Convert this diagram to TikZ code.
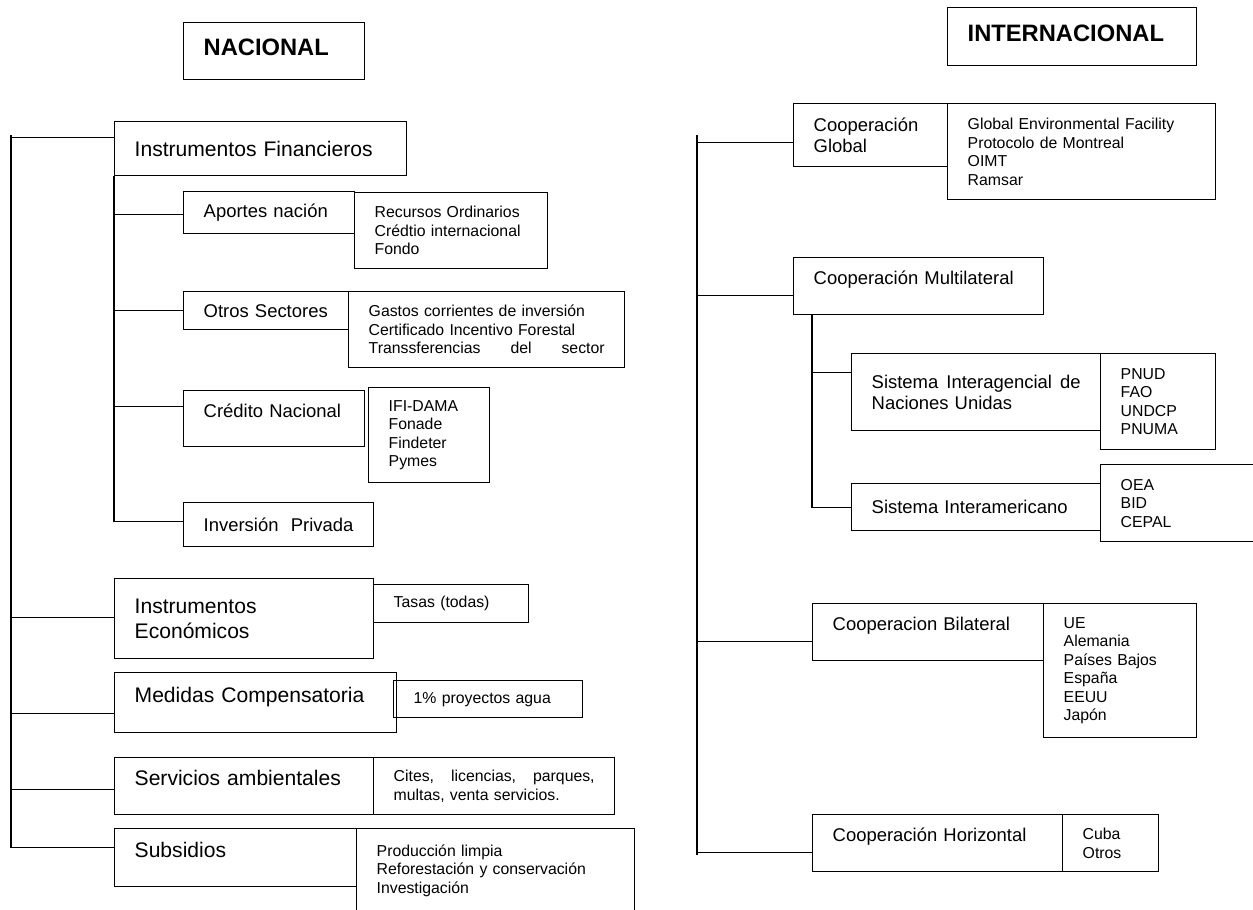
\documentclass[tikz,border=0pt]{standalone}
\usepackage{fontspec}
\setmainfont{Liberation Sans}
\def\spread{\hspace{0pt plus 1filll}}
\tikzset{
	box/.style={draw, line width=0.8pt, anchor=north west, align=left, inner xsep=0.4cm, inner ysep=0pt},
	lg/.style={font=\fontsize{12}{14.6}\selectfont},
	md/.style={font=\fontsize{10.5}{12}\selectfont},
	sm/.style={font=\fontsize{9}{10.5}\selectfont},
	title/.style={font=\fontsize{13.5}{16}\selectfont\bfseries},
	raised/.style={text depth=#1}, raised/.default=0.33cm,
	link/.style={line width=0.8pt},
}

\begin{document}
\begin{tikzpicture}[x=0.02cm, y=-0.02cm]
	\useasboundingbox (0,0) rectangle (1253,909);

	%%%%% NACIONAL %%%%%

	\node[box, title, raised=0.14cm, text width=2.82cm, minimum height=1.14cm] (nac) at (183,22) {NACIONAL};

	\node[box, lg, text width=5.04cm, minimum height=1.08cm] (finan) at (114,121) {Instrumentos Financieros};
	\node[box, md, text width=2.62cm, minimum height=0.84cm] (aport) at (183,191) {Aportes nación};
	\node[box, sm, text width=3.06cm, minimum height=1.52cm] (aportL) at (354,192) {Recursos Ordinarios\\Crédtio internacional\\Fondo};
	\node[box, md, text width=2.50cm, minimum height=0.76cm] (otros) at (183,291) {Otros Sectores};
	\node[box, sm, text width=4.72cm, minimum height=1.52cm] (otrosL) at (348,291) {Gastos corrientes de inversión\\Certificado Incentivo Forestal\\Transsferencias\spread del\spread sector};
	\node[box, md, raised, text width=2.82cm, minimum height=1.12cm] (cred) at (183,390) {Crédito Nacional};
	\node[box, sm, text width=1.62cm, minimum height=1.90cm] (credL) at (368,387) {IFI-DAMA\\Fonade\\Findeter\\Pymes};
	\node[box, md, text width=3.00cm, minimum height=0.88cm] (priv) at (183,502) {Inversión\ \ Privada};

	\node[box, lg, text width=4.38cm, minimum height=1.60cm] (econ) at (114,578) {Instrumentos\\Económicos};
	\node[box, sm, text width=2.30cm, minimum height=0.76cm] (econL) at (373,584) {Tasas (todas)};
	\node[box, lg, raised, text width=4.84cm, minimum height=1.20cm] (comp) at (114,672) {Medidas Compensatoria};
	\node[box, sm, text width=2.98cm, minimum height=0.74cm] (compL) at (393,680) {1\% proyectos agua};
	\node[box, lg, raised, text width=4.38cm, minimum height=1.14cm] (serv) at (114,757) {Servicios ambientales};
	\node[box, sm, text width=4.02cm, minimum height=1.14cm] (servL) at (373,757) {Cites,\spread licencias,\spread parques,\\multas, venta servicios.};
	\node[box, lg, raised, text width=4.04cm, minimum height=1.16cm] (subs) at (114,828) {Subsidios};
	\node[box, sm, text width=4.76cm, minimum height=1.68cm] (subsL) at (356,828) {Producción limpia\\Reforestación y conservación\\Investigación};

	\coordinate (ltop) at (11,135);
	\draw[link] (ltop) |- ([yshift=0.22cm]finan.west);
	\draw[link] (ltop) |- ([yshift=0.02cm]econ.west);
	\draw[link] (ltop) |- ([yshift=-0.22cm]comp.west);
	\draw[link] (ltop) |- ([yshift=-0.07cm]serv.west);
	\draw[link] (ltop) |- ([yshift=0.2cm]subs.west);

	\draw[link] (finan.south west) |- ([yshift=-0.04cm]aport.west);
	\draw[link] (finan.south west) |- (otros.west);
	\draw[link] (finan.south west) |- ([yshift=0.24cm]cred.west);
	\draw[link] (finan.south west) |- ([yshift=0.06cm]priv.west);

	%%%%% INTERNACIONAL %%%%%

	\node[box, title, raised=0.14cm, text width=4.18cm, minimum height=1.16cm] (intl) at (947,7) {INTERNACIONAL};

	\node[box, md, text width=2.28cm, minimum height=1.26cm] (glob) at (793,103) {Cooperación\\Global};
	\node[box, sm, text width=4.56cm, minimum height=1.92cm] (globL) at (947,103) {Global Environmental Facility\\Protocolo de Montreal\\OIMT\\Ramsar};
	\node[box, md, raised, text width=4.20cm, minimum height=1.14cm] (multi) at (793,257) {Cooperación Multilateral};
	\node[box, md, text width=4.18cm, minimum height=1.54cm] (onu) at (851,353) {Sistema\spread Interagencial\spread de\\Naciones Unidas};
	\node[box, sm, text width=1.50cm, minimum height=1.92cm] (onuL) at (1100,353) {PNUD\\FAO\\UNDCP\\PNUMA};
	\node[box, md, text width=4.18cm, minimum height=0.94cm] (oea) at (851,483) {Sistema Interamericano};
	\node[box, sm, text width=2.44cm, minimum height=1.54cm] (oeaL) at (1100,464) {OEA\\BID\\CEPAL};
	\node[box, md, raised, text width=3.82cm, minimum height=1.14cm] (bila) at (812,603) {Cooperacion Bilateral};
	\node[box, sm, text width=2.26cm, minimum height=2.68cm] (bilaL) at (1043,603) {UE\\Alemania\\Países Bajos\\España\\EEUU\\Japón};
	\node[box, md, raised, text width=4.20cm, minimum height=1.14cm] (hori) at (812,814) {Cooperación Horizontal};
	\node[box, sm, text width=1.12cm, minimum height=1.14cm] (horiL) at (1062,814) {Cuba\\Otros};

	\coordinate (rtop) at (697,135);
	\coordinate (rbot) at (697,855);
	\draw[link] (rtop) -- (rbot);
	\draw[link] (rtop) |- ([yshift=-0.15cm]glob.west);
	\draw[link] (rtop) |- ([yshift=-0.19cm]multi.west);
	\draw[link] (rtop) |- ([yshift=-0.19cm]bila.west);
	\draw[link] (rtop) |- ([yshift=-0.19cm]hori.west);

	\coordinate (msub) at ([xshift=0.38cm]multi.south west);
	\draw[link] (msub) |- ([yshift=0.39cm]onu.west);
	\draw[link] (msub) |- (oea.west);

\end{tikzpicture}
\end{document}
